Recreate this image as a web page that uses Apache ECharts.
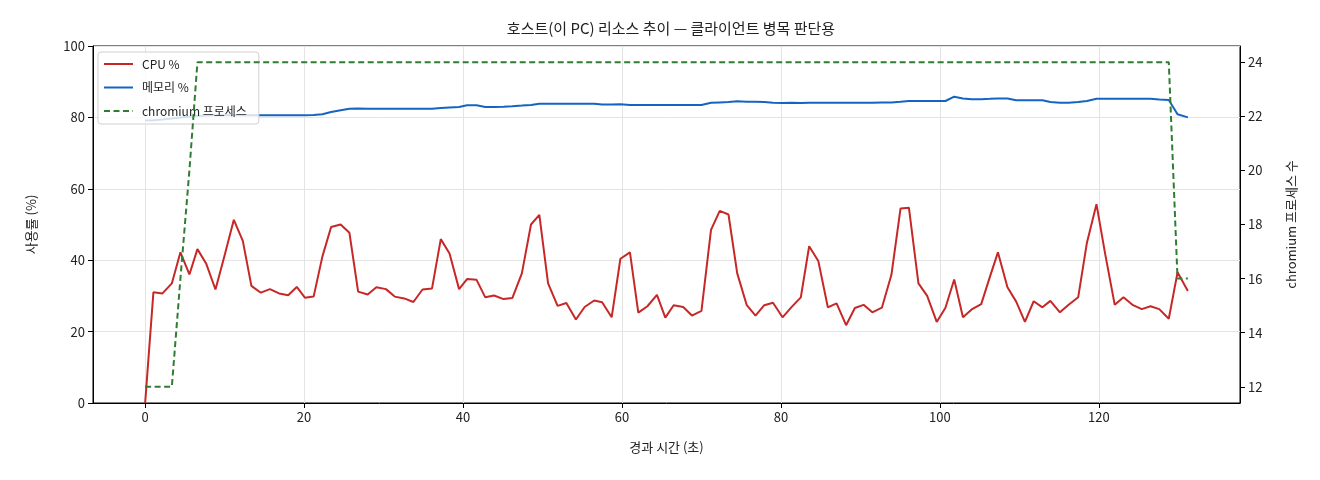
<!DOCTYPE html>
<html>
<head>
<meta charset="utf-8">
<title>호스트 리소스 추이</title>
<script src="https://cdn.jsdelivr.net/npm/echarts@6/dist/echarts.min.js"></script>
<style>
    html, body { margin: 0; padding: 0; background: #fff; }
    #chart { width: 1320px; height: 480px; }
</style>
</head>
<body>
<div id="chart"></div>
<script>
// 샘플 시각 (초)
var timeSec = [
    0, 1.04, 2.18, 3.36, 4.44, 5.57, 6.58, 7.67, 8.85, 9.98,
    11.16, 12.29, 13.37, 14.55, 15.7, 16.86, 18.0, 19.08, 20.1, 21.2,
    22.3, 23.4, 24.6, 25.7, 26.8, 28.0, 29.1, 30.3, 31.4, 32.6,
    33.75, 34.9, 36.1, 37.2, 38.3, 39.5, 40.5, 41.7, 42.8, 43.9,
    45.1, 46.2, 47.4, 48.55, 49.6, 50.7, 51.9, 53.0, 54.2, 55.3,
    56.5, 57.5, 58.7, 59.8, 61.0, 62.05, 63.2, 64.4, 65.45, 66.5,
    67.7, 68.8, 70.0, 71.2, 72.3, 73.4, 74.5, 75.7, 76.8, 77.9,
    79.0, 80.2, 81.3, 82.5, 83.55, 84.7, 85.9, 87.0, 88.2, 89.3,
    90.4, 91.5, 92.7, 93.9, 95.05, 96.1, 97.3, 98.4, 99.6, 100.7,
    101.8, 102.9, 104.0, 105.2, 106.3, 107.3, 108.5, 109.6, 110.7, 111.8,
    112.9, 113.9, 115.1, 116.2, 117.4, 118.5, 119.7, 120.8, 122.0, 123.1,
    124.3, 125.4, 126.5, 127.6, 128.8, 129.9, 131.2
];

var cpuPct = [
    0, 31.0, 30.7, 33.5, 42.2, 36.0, 43.1, 39.1, 31.8, 41.2,
    51.3, 45.4, 32.8, 30.9, 31.9, 30.7, 30.2, 32.5, 29.5, 29.8,
    41.0, 49.3, 50.0, 47.7, 31.2, 30.4, 32.4, 31.9, 29.8, 29.3,
    28.3, 31.8, 32.1, 45.9, 41.9, 31.9, 34.7, 34.5, 29.6, 30.1,
    29.1, 29.4, 36.3, 50.0, 52.7, 33.5, 27.2, 28.0, 23.4, 26.9,
    28.7, 28.2, 24.0, 40.4, 42.2, 25.3, 27.1, 30.3, 23.9, 27.4,
    26.9, 24.5, 25.8, 48.5, 53.8, 52.8, 36.3, 27.4, 24.5, 27.4,
    28.1, 24.0, 26.8, 29.6, 43.9, 39.8, 26.8, 27.9, 21.8, 26.6,
    27.5, 25.4, 26.7, 35.9, 54.5, 54.7, 33.5, 30.0, 22.7, 26.7,
    34.6, 24.0, 26.2, 27.7, 35.4, 42.2, 32.4, 28.4, 22.7, 28.5,
    26.8, 28.6, 25.4, 27.5, 29.6, 44.9, 55.7, 41.7, 27.5, 29.6,
    27.4, 26.3, 27.1, 26.3, 23.6, 36.6, 31.4
];

var memPct = [
    79.1, 79.2, 79.4, 79.7, 80.0, 80.2, 80.4, 80.5, 80.6, 80.6,
    80.6, 80.6, 80.6, 80.6, 80.6, 80.6, 80.6, 80.6, 80.6, 80.7,
    80.9, 81.5, 82.0, 82.4, 82.5, 82.4, 82.4, 82.4, 82.4, 82.4,
    82.4, 82.4, 82.4, 82.6, 82.8, 82.9, 83.4, 83.4, 82.9, 82.9,
    83.0, 83.1, 83.3, 83.5, 83.8, 83.8, 83.8, 83.8, 83.8, 83.8,
    83.8, 83.6, 83.6, 83.7, 83.5, 83.5, 83.5, 83.5, 83.5, 83.5,
    83.5, 83.5, 83.5, 84.1, 84.2, 84.3, 84.5, 84.4, 84.4, 84.3,
    84.1, 84.0, 84.1, 84.0, 84.1, 84.1, 84.1, 84.1, 84.1, 84.1,
    84.1, 84.1, 84.2, 84.2, 84.4, 84.6, 84.6, 84.6, 84.6, 84.6,
    85.8, 85.3, 85.1, 85.1, 85.2, 85.3, 85.3, 84.8, 84.8, 84.8,
    84.8, 84.3, 84.1, 84.1, 84.3, 84.6, 85.2, 85.2, 85.2, 85.2,
    85.2, 85.2, 85.2, 85.0, 84.9, 80.9, 80.0
];

var chromiumCount = [
    12, 12, 12, 12, 16, 20, 24, 24, 24, 24,
    24, 24, 24, 24, 24, 24, 24, 24, 24, 24,
    24, 24, 24, 24, 24, 24, 24, 24, 24, 24,
    24, 24, 24, 24, 24, 24, 24, 24, 24, 24,
    24, 24, 24, 24, 24, 24, 24, 24, 24, 24,
    24, 24, 24, 24, 24, 24, 24, 24, 24, 24,
    24, 24, 24, 24, 24, 24, 24, 24, 24, 24,
    24, 24, 24, 24, 24, 24, 24, 24, 24, 24,
    24, 24, 24, 24, 24, 24, 24, 24, 24, 24,
    24, 24, 24, 24, 24, 24, 24, 24, 24, 24,
    24, 24, 24, 24, 24, 24, 24, 24, 24, 24,
    24, 24, 24, 24, 24, 16, 16
];

var FONT = '"Noto Sans CJK KR", "Noto Sans", sans-serif';

function pairs(vals) {
    return timeSec.map(function (t, i) { return [t, vals[i]]; });
}

var chart = echarts.init(document.getElementById('chart'), null, { renderer: 'canvas' });

var option = {
    backgroundColor: '#fff',
    animation: false,
    textStyle: { fontFamily: FONT },
    title: {
        text: '호스트(이 PC) 리소스 추이 — 클라이언트 병목 판단용',
        left: 666, top: 16, textAlign: 'center',
        textStyle: { fontFamily: FONT, fontSize: 15, fontWeight: 'normal', color: '#222' }
    },
    legend: {
        orient: 'vertical',
        left: 98, top: 52,
        padding: [6, 12, 7, 5],
        itemWidth: 29, itemHeight: 12, itemGap: 11.5,
        backgroundColor: 'rgba(255,255,255,0.8)',
        borderColor: '#d0d0d0', borderWidth: 1, borderRadius: 3,
        // 범례에는 선만 (마커 숨김)
        itemStyle: { opacity: 0 },
        textStyle: { fontFamily: FONT, fontSize: 12, color: '#222', padding: [0, 0, 0, 4] },
        data: ['CPU %', '메모리 %', 'chromium 프로세스']
    },
    grid: {
        left: 93, right: 80, top: 46, bottom: 77,
        show: true, borderColor: '#000', borderWidth: 1
    },
    xAxis: {
        type: 'value',
        min: -6.56, max: 137.76,
        splitNumber: 7,
        name: '경과 시간 (초)', nameLocation: 'middle', nameGap: 38,
        nameTextStyle: { fontFamily: FONT, fontSize: 13, color: '#222' },
        axisLine: { show: true, onZero: false, lineStyle: { color: '#000', width: 1 } },
        axisTick: { show: true, length: 5, lineStyle: { color: '#000' } },
        axisLabel: { showMinLabel: false, showMaxLabel: false, fontSize: 13, color: '#222', margin: 8 },
        splitLine: { show: true, lineStyle: { color: '#e4e4e4', width: 1 } }
    },
    yAxis: [{
        type: 'value',
        min: 0, max: 100, interval: 20,
        name: '사용률 (%)', nameLocation: 'middle', nameGap: 55,
        nameTextStyle: { fontFamily: FONT, fontSize: 13, color: '#222' },
        // onZero를 끄지 않으면 축이 x=0 위치로 이동함
        axisLine: { show: true, onZero: false, lineStyle: { color: '#000', width: 1 } },
        axisTick: { show: true, length: 5, lineStyle: { color: '#000' } },
        axisLabel: { fontSize: 13, color: '#222', margin: 8 },
        splitLine: { show: true, lineStyle: { color: '#e4e4e4', width: 1 } }
    }, {
        type: 'value',
        position: 'right',
        min: 11.4, max: 24.6,
        splitNumber: 6,
        name: 'chromium 프로세스 수', nameLocation: 'middle', nameGap: 45,
        nameRotate: 90,
        nameTextStyle: { fontFamily: FONT, fontSize: 13, color: '#222' },
        axisLine: { show: true, onZero: false, lineStyle: { color: '#000', width: 1 } },
        axisTick: { show: true, length: 5, lineStyle: { color: '#000' } },
        axisLabel: { showMinLabel: false, showMaxLabel: false, fontSize: 13, color: '#222', margin: 8 },
        splitLine: { show: false }
    }],
    series: [{
        name: 'CPU %', type: 'line',
        data: pairs(cpuPct),
        showSymbol: false, symbol: 'none',
        lineStyle: { color: '#c62828', width: 2 },
        itemStyle: { color: '#c62828' }
    }, {
        name: '메모리 %', type: 'line',
        data: pairs(memPct),
        showSymbol: false, symbol: 'none',
        lineStyle: { color: '#1565c0', width: 2 },
        itemStyle: { color: '#1565c0' }
    }, {
        // 오른쪽 축 선은 범례 위에 그려짐
        name: 'chromium 프로세스', type: 'line',
        yAxisIndex: 1,
        z: 5,
        data: pairs(chromiumCount),
        showSymbol: false, symbol: 'none',
        lineStyle: { color: '#2e7d32', width: 2, type: [6, 3.5] },
        itemStyle: { color: '#2e7d32' }
    }]
};

chart.setOption(option);

window.onresize = function () {
    chart.resize();
};
</script>
</body>
</html>
